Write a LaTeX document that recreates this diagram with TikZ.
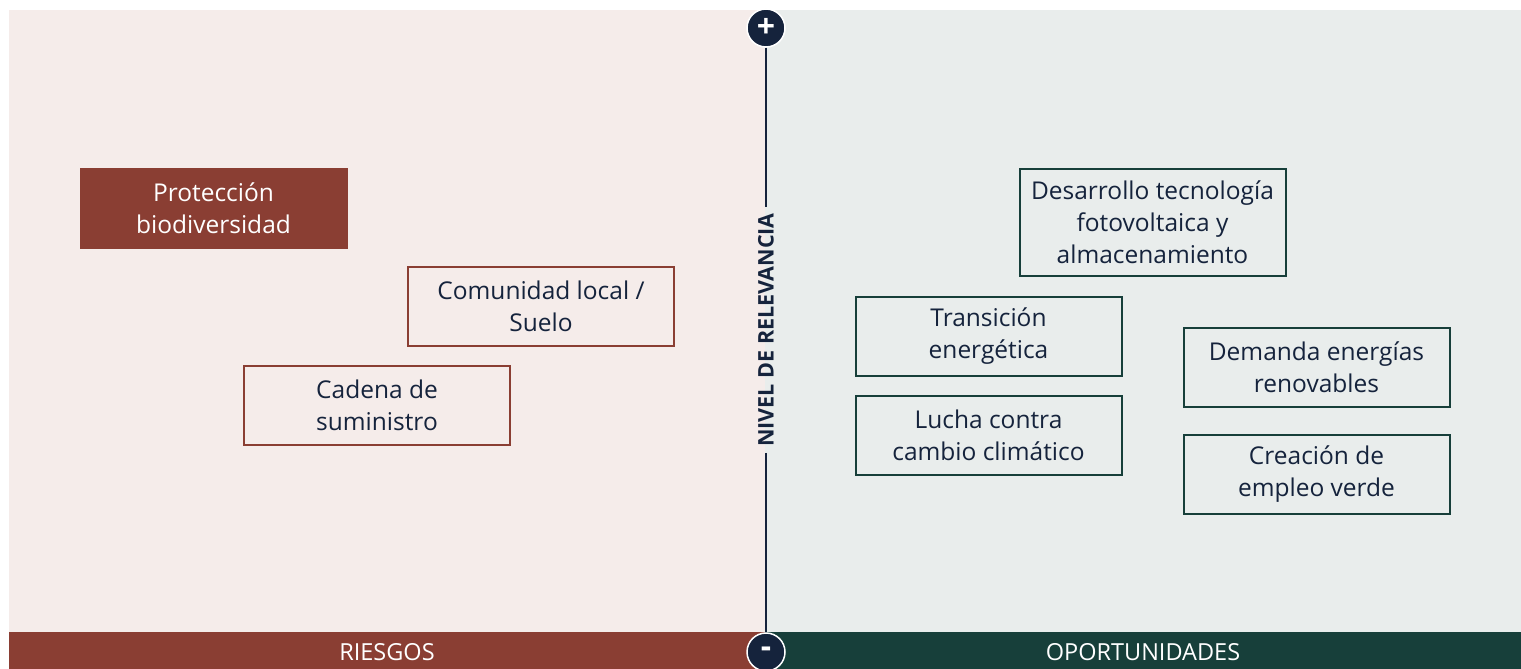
\documentclass[tikz,border=0pt]{standalone}
\usepackage{fontspec}
\setmainfont{Open Sans}
\definecolor{riskred}{HTML}{8A3E33}
\definecolor{opgreen}{HTML}{173F3A}
\definecolor{axisnavy}{HTML}{15233C}
\definecolor{riskbg}{HTML}{F5ECEA}
\definecolor{opbg}{HTML}{E9EDEC}
\tikzset{
    boxtext/.style={align=center, text=axisnavy, font=\fontsize{24.5}{32}\selectfont,
        minimum width=266pt, minimum height=79pt, inner sep=0pt},
    riskbox/.style={boxtext, draw=riskred, line width=2pt},
    opbox/.style={boxtext, draw=opgreen, line width=2pt},
    barlabel/.style={text=white, font=\fontsize{23.5}{26}\selectfont},
    endmark/.style={circle, fill=axisnavy, draw=white, line width=1.5pt,
        minimum size=38pt, inner sep=0pt, text=white, font=\fontsize{32}{32}\selectfont\bfseries}
}
\begin{document}
\begin{tikzpicture}[x=1pt, y=-1pt]
    \useasboundingbox (0,0) rectangle (1521,669);

    % background panes
    \fill[riskbg] (9,10) rectangle (765,632);
    \fill[opbg] (765,10) rectangle (1521,632);
    \fill[riskred] (9,632) rectangle (765,669);
    \fill[opgreen] (765,632) rectangle (1521,669);
    \node[barlabel] (riesgos) at (387,652) {RIESGOS};
    \node[barlabel] (oport) at (1143,652) {OPORTUNIDADES};

    % axis
    \node[rotate=90, text=axisnavy, inner sep=6pt, font=\fontsize{21.5}{24}\selectfont\bfseries] (axislabel) at (766,330) {NIVEL DE RELEVANCIA};
    \node[endmark] (plus) at (766,28) {+};
    \node[endmark] (minus) at (766,652) {-};
    \draw[axisnavy, line width=2.5pt] (plus.south) -- (axislabel.east);
    \draw[axisnavy, line width=2.5pt] (axislabel.west) -- (minus.north);

    % riesgos
    \node[riskbox, fill=riskred, text=white] (biodiv) at (213.5,208) {Protección\\biodiversidad};
    \node[riskbox] (comunidad) at (541,306.5) {Comunidad local /\\Suelo};
    \node[riskbox] (cadena) at (377,405.5) {Cadena de\\suministro};

    % oportunidades
    \node[opbox, minimum height=107pt] (fotovolt) at (1152.5,222.5) {Desarrollo tecnología\\fotovoltaica y\\almacenamiento};
    \node[opbox] (transicion) at (988.5,336) {Transición\\energética};
    \node[opbox] (demanda) at (1316.5,367) {Demanda energías\\renovables};
    \node[opbox] (lucha) at (988.5,435) {Lucha contra\\cambio climático};
    \node[opbox] (empleo) at (1316.5,474) {Creación de\\empleo verde};
\end{tikzpicture}
\end{document}
